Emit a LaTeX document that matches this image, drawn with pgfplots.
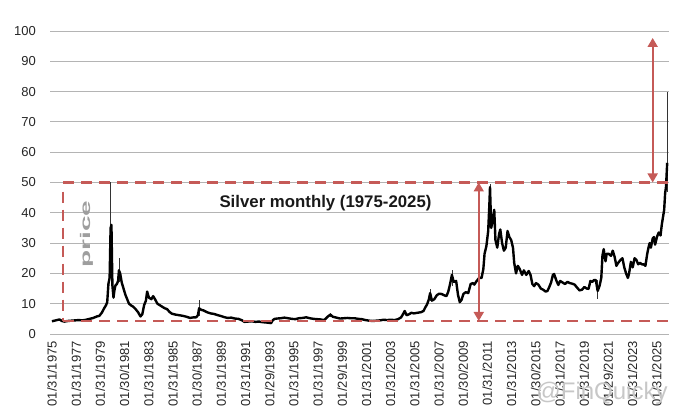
\documentclass[border=0pt]{standalone}
\usepackage{pgfplots}
\pgfplotsset{compat=1.18}
\usepackage{fontspec}
\setmainfont{Liberation Sans}
\usetikzlibrary{arrows.meta,calc}
\definecolor{annred}{HTML}{C55A57}
\definecolor{gridgray}{HTML}{B4B4B4}
\begin{document}
\begin{tikzpicture}
\begin{axis}[
  name=ax,
  scale only axis,
  width=619pt, height=303pt,
  xmin=1974.92, xmax=2026.1,
  ymin=0, ymax=100,
  ytick={0,10,...,100},
  xtick={1975.08,1977.08,1979.08,1981.08,1983.08,1985.08,1987.08,1989.08,1991.08,1993.08,1995.08,1997.08,1999.08,2001.08,2003.08,2005.08,2007.08,2009.08,2011.08,2013.08,2015.08,2017.08,2019.08,2021.08,2023.08,2025.08},
  xticklabels={01/31/1975,01/31/1977,01/31/1979,01/30/1981,01/31/1983,01/31/1985,01/30/1987,01/31/1989,01/31/1991,01/29/1993,01/31/1995,01/31/1997,01/29/1999,01/31/2001,01/31/2003,01/31/2005,01/31/2007,01/30/2009,01/31/2011,01/31/2013,01/30/2015,01/31/2017,01/31/2019,01/29/2021,01/31/2023,01/31/2025},
  ymajorgrids,
  grid style={gridgray, line width=0.9pt},
  axis line style={draw=none},
  major tick length=0pt,
  /pgf/number format/assume math mode=true,
  tick label style={font=\fontsize{13}{15}\selectfont, text=black!85},
  yticklabel style={inner sep=0pt, xshift=-14pt},
  xticklabel style={inner sep=0pt, yshift=-7pt, rotate=90, anchor=east},
  clip=false,
]
% wicks (monthly highs/lows)
\addplot[black!80, line width=0.8pt, unbounded coords=jump] coordinates {
(1979.93,34) (1979.93,50) (nan,nan)
(1980.62,17) (1980.62,25) (nan,nan)
(1987.25,6.0) (1987.25,11.3) (nan,nan)
(1998.1,5.5) (1998.1,7.0) (nan,nan)
(2006.35,11) (2006.35,14.9) (nan,nan)
(2008.15,16) (2008.15,21) (nan,nan)
(2011.3,40) (2011.3,49.5) (nan,nan)
(2020.2,11.7) (2020.2,17.8) (nan,nan)
(2025.95,47) (2025.95,80) (nan,nan)
};
% monthly closes
\addplot[black, line width=2.4pt, line join=round] coordinates {
(1975.08,4.2) (1975.3,4.4) (1975.5,4.6) (1975.7,4.8) (1975.9,4.3)
(1976.1,4.1) (1976.4,4.3) (1976.7,4.4) (1977.0,4.5) (1977.3,4.6)
(1977.6,4.5) (1977.9,4.7) (1978.2,5.0) (1978.5,5.3) (1978.8,5.8)
(1979.0,6.0) (1979.2,7.0) (1979.4,8.5) (1979.55,9.5) (1979.65,10.5)
(1979.75,16.5) (1979.85,18.5) (1979.93,35) (1980.0,36) (1980.08,16)
(1980.17,12) (1980.25,14.5) (1980.33,16) (1980.45,16.5) (1980.55,17.5)
(1980.62,21) (1980.72,20) (1980.85,17) (1981.0,15) (1981.15,13)
(1981.3,11.5) (1981.45,10) (1981.6,9.5) (1981.8,9) (1982.0,8.2)
(1982.2,7.2) (1982.4,5.8) (1982.55,6.5) (1982.7,9.5) (1982.85,11)
(1982.95,14) (1983.1,12) (1983.3,11.5) (1983.45,12.5) (1983.6,11.5)
(1983.8,10) (1984.0,9.5) (1984.2,9) (1984.4,8.5) (1984.6,8.2)
(1984.8,7.3) (1985.0,6.7) (1985.3,6.4) (1985.6,6.2) (1985.9,6.0)
(1986.2,5.7) (1986.5,5.3) (1986.8,5.5) (1987.0,5.5) (1987.15,6.2)
(1987.25,8.5) (1987.4,8.0) (1987.6,7.8) (1987.9,7.2) (1988.2,6.8)
(1988.5,6.6) (1988.8,6.2) (1989.0,6.0) (1989.3,5.6) (1989.6,5.3)
(1989.9,5.4) (1990.2,5.1) (1990.5,5.0) (1990.8,4.5) (1991.0,4.0)
(1991.3,4.1) (1991.6,4.2) (1991.9,4.0) (1992.2,4.1) (1992.5,3.9)
(1992.8,3.8) (1993.0,3.7) (1993.2,3.6) (1993.35,4.6) (1993.5,5.0)
(1993.7,5.1) (1994.0,5.2) (1994.3,5.4) (1994.6,5.2) (1994.9,5.0)
(1995.2,4.9) (1995.5,5.2) (1995.8,5.3) (1996.1,5.5) (1996.4,5.2)
(1996.7,5.0) (1997.0,4.9) (1997.3,4.8) (1997.6,4.6) (1997.9,5.8)
(1998.1,6.4) (1998.3,5.7) (1998.6,5.4) (1998.9,5.1) (1999.2,5.2)
(1999.5,5.3) (1999.8,5.2) (2000.1,5.2) (2000.4,5.0) (2000.7,4.9)
(2001.0,4.6) (2001.3,4.4) (2001.6,4.3) (2001.9,4.4) (2002.2,4.5)
(2002.5,4.7) (2002.8,4.6) (2003.1,4.7) (2003.4,4.6) (2003.7,4.9)
(2003.95,5.5) (2004.1,6.5) (2004.25,7.6) (2004.4,6.2) (2004.6,6.5)
(2004.8,7.0) (2005.0,6.8) (2005.3,7.0) (2005.6,7.2) (2005.8,7.6)
(2005.95,8.8) (2006.1,9.8) (2006.25,11.5) (2006.35,13.5) (2006.5,11)
(2006.7,11.5) (2006.9,12.8) (2007.1,13.3) (2007.3,13.2) (2007.5,12.8)
(2007.7,12.5) (2007.85,14.0) (2008.0,16.5) (2008.15,19.5) (2008.3,17.2)
(2008.5,17.5) (2008.65,13) (2008.8,10.5) (2008.95,11.3) (2009.1,13.2)
(2009.3,13.8) (2009.5,13.5) (2009.7,16.5) (2009.9,16.8) (2010.0,16.3)
(2010.2,17.5) (2010.4,18.5) (2010.6,18.5) (2010.75,21.5) (2010.85,26.5)
(2011.0,29) (2011.15,34) (2011.25,43) (2011.3,48.5) (2011.4,35)
(2011.5,37) (2011.65,41) (2011.75,31) (2011.9,28.5) (2012.05,33)
(2012.15,34.5) (2012.3,30) (2012.45,27.5) (2012.6,28.5) (2012.75,34)
(2012.9,32) (2013.05,31) (2013.2,28.5) (2013.3,23.5) (2013.45,20)
(2013.6,22.5) (2013.75,21.5) (2013.95,19.5) (2014.1,21) (2014.3,19.5)
(2014.5,20.8) (2014.65,19.5) (2014.8,16.5) (2014.95,15.8) (2015.1,16.8)
(2015.3,16.3) (2015.5,15.0) (2015.7,14.6) (2015.9,14.0) (2016.05,14.2)
(2016.2,15.5) (2016.35,17) (2016.5,19.5) (2016.6,19.8) (2016.8,17.5)
(2016.95,16.2) (2017.1,17.5) (2017.3,17.0) (2017.5,16.5) (2017.7,17.2)
(2017.9,16.8) (2018.1,16.6) (2018.3,16.3) (2018.5,15.3) (2018.7,14.4)
(2018.9,14.6) (2019.1,15.5) (2019.3,15.0) (2019.45,14.9) (2019.6,17.5)
(2019.75,17.2) (2019.9,17.8) (2020.05,17.8) (2020.2,14.2) (2020.35,15.8)
(2020.5,18.5) (2020.6,26) (2020.7,28) (2020.85,24) (2020.95,26.5)
(2021.1,26.5) (2021.3,25.8) (2021.45,27.5) (2021.6,25.5) (2021.75,22.5)
(2021.9,23.5) (2022.1,24.5) (2022.25,25) (2022.4,22) (2022.55,20)
(2022.7,18.5) (2022.8,20) (2022.95,23.8) (2023.1,22) (2023.25,25)
(2023.4,24.5) (2023.55,23) (2023.7,23.5) (2023.85,23) (2024.0,23)
(2024.15,22.5) (2024.3,26.5) (2024.4,28.5) (2024.5,30) (2024.6,28.5)
(2024.75,31.5) (2024.85,32) (2024.95,29.5) (2025.1,32) (2025.25,33.5)
(2025.4,32.5) (2025.5,36) (2025.6,38.5) (2025.7,41) (2025.78,46.5)
(2025.85,48.5) (2025.95,56.5)
};
% annotations
\draw[annred, line width=2.6pt, dash pattern=on 11pt off 7pt] (axis cs:1976.0,50) -- (axis cs:2026.1,50);
\draw[annred, line width=2.6pt, dash pattern=on 11pt off 7pt] (axis cs:1976.0,4.3) -- (axis cs:2026.1,4.3);
\draw[annred, line width=2.6pt, dash pattern=on 11pt off 7pt] (axis cs:1976.0,47) -- (axis cs:1976.0,4.3);
\draw[annred, line width=1.8pt, {Triangle[width=10pt,length=9pt]}-{Triangle[width=10pt,length=9pt]}] (axis cs:2010.37,4.3) -- (axis cs:2010.37,50);
\draw[annred, line width=1.8pt, {Triangle[width=10pt,length=9pt]}-{Triangle[width=10pt,length=9pt]}] (axis cs:2024.75,50) -- (axis cs:2024.75,97.7);
\node[font=\bfseries\fontsize{16.8}{18}\selectfont, text=black!90] at (axis cs:1997.7,43.2) {Silver monthly (1975-2025)};
\node[font=\bfseries\fontsize{14}{15}\selectfont, text=black!38, rotate=90] at (axis cs:1977.97,33) {\scalebox{2.0}[1]{price}};
\end{axis}
\node[font=\fontsize{24}{26}\selectfont, text=black!22, anchor=center] at ($(ax.south west)+(552pt,-59pt)$) {@FinQuicky};
\path[use as bounding box] ($(ax.south west)+(-50pt,-80pt)$) rectangle ($(ax.south west)+(629pt,334pt)$);
\end{tikzpicture}
\end{document}
